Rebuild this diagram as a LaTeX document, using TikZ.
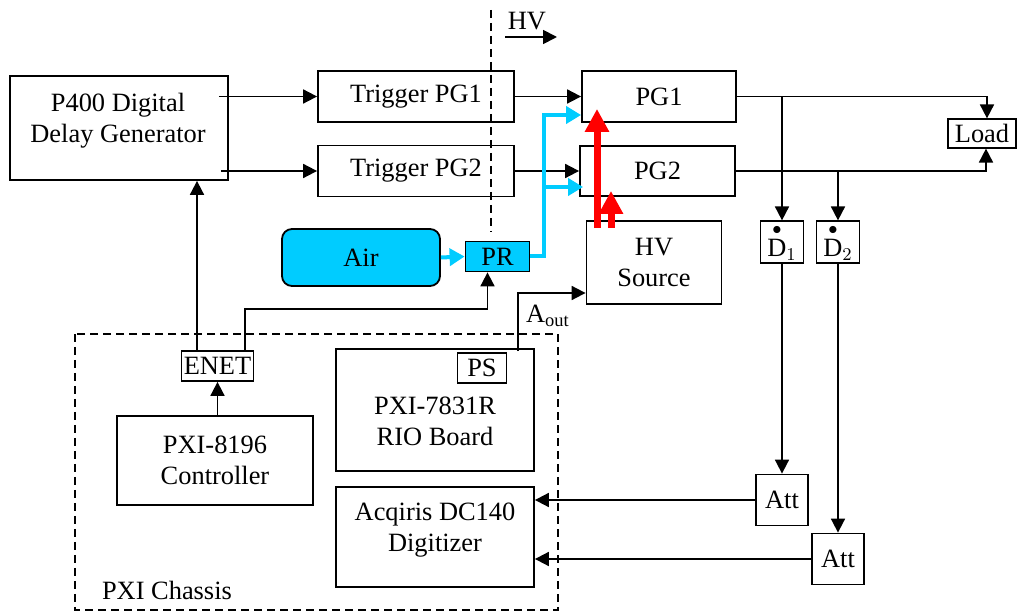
\documentclass[tikz,border=0pt]{standalone}
\usepackage{amsmath}
\usepackage{fontspec}
\setmainfont{Liberation Serif}
\usetikzlibrary{arrows.meta,calc}
\definecolor{airblue}{RGB}{0,204,255}
\definecolor{hvred}{RGB}{255,0,0}
\tikzset{
  box/.style={draw, line width=0.9pt, inner sep=0pt, align=center},
  arr/.style={line width=0.9pt, -{Triangle[length=7pt,width=7pt]}},
  cyanarr/.style={airblue, line width=2pt, -{Triangle[length=7.5pt,width=8.5pt]}},
  redarr/.style={hvred, line width=3.5pt, -{Triangle[length=11.5pt,width=11.5pt]}},
  border/.style={line width=0.8pt, dash pattern=on 4pt off 2.5pt},
}

\begin{document}
\begin{tikzpicture}[x=0.5pt, y=-0.5pt, font=\fontsize{13.2}{15.5}\selectfont]
    \useasboundingbox (0,0) rectangle (1019,614);

    % Timing
    \node[box, minimum width=109pt, minimum height=52pt] (P400) at (119,128) {};
    \node[align=center] (P400text) at (118,121) {P400 Digital\\Delay Generator};
    \node[box, minimum width=98pt, minimum height=25.5pt] (TPG1) at (416,96.5) {Trigger PG1};
    \node[box, minimum width=98pt, minimum height=25.5pt] (TPG2) at (416,171) {Trigger PG2};

    % Pulse generators
    \node[box, minimum width=77pt, minimum height=25.5pt] (PG1) at (659,96.5) {PG1};
    \node[box, minimum width=77.5pt, minimum height=25pt] (PG2) at (657.5,171) {PG2};
    \node[box, minimum width=67.5pt, minimum height=41.5pt] (HV) at (654,262.5) {HV\\Source};
    \node[box, fill=airblue, rounded corners=5pt, minimum width=79pt, minimum height=28.5pt] (Air) at (361,257.5) {Air};
    \node[box, fill=airblue, minimum width=32pt, minimum height=15pt] (PR) at (497.5,256.5) {PR};

    % Load and probes
    \node[box, line width=0.6pt, minimum width=34pt, minimum height=14.5pt] (Load) at (982,133.5) {Load};
    \node[box, line width=0.6pt, minimum width=21.5pt, minimum height=21pt] (D1) at (782,242) {${\overset{\bullet}{\mathrm{D}}}_1$};
    \node[box, line width=0.6pt, minimum width=21.5pt, minimum height=21pt] (D2) at (838,242) {${\overset{\bullet}{\mathrm{D}}}_2$};
    \node[box, minimum width=26pt, minimum height=25.5pt] (Att1) at (782,500) {Att};
    \node[box, minimum width=26pt, minimum height=25.5pt] (Att2) at (838,559) {Att};

    % PXI chassis
    \draw[border] (75,334) rectangle (558,610);
    \node[anchor=west] (chassis) at (95,590) {PXI Chassis};
    \node[box, minimum width=36pt, minimum height=15pt] (ENET) at (217.5,366) {ENET};
    \node[box, minimum width=99pt, minimum height=61pt] (RIO) at (435,410) {};
    \node[align=center] (RIOtext) at (435,421) {PXI-7831R\\RIO Board};
    \node[box, line width=0.6pt, minimum width=24.5pt, minimum height=15pt] (PS) at (482,368) {PS};
    \node[box, minimum width=98pt, minimum height=44.5pt] (CTRL) at (215,460.5) {PXI-8196\\Controller};
    \node[box, minimum width=99pt, minimum height=50pt] (DIG) at (435,537) {};
    \node[align=center] (DIGtext) at (435,530) {Acqiris DC140\\Digitizer};

    % HV border
    \draw[border] (491,10) -- (491,232);
    \node (hvlabel) at (527,21) {HV};
    \coordinate (hvfrom) at (505,37);
    \coordinate (hvto) at (557,37);
    \draw[arr] (hvfrom) -- (hvto);

    % Trigger lines
    \draw[arr] ($(P400.east |- TPG1.west)+(-10,0)$) -- (TPG1.west);
    \draw[arr] ($(P400.east |- TPG2.west)+(-8,0)$) -- (TPG2.west);
    \draw[arr] (TPG1.east) -- (PG1.west);
    \draw[arr] (TPG2.east) -- (PG2.west);
    \draw[arr] ($(ENET.north)+(-20.5,0)$) -- ($(P400.south)+(78,0)$);
    \draw[arr] ($(ENET.north)+(27.5,0)$) |- ($(PR.south)+(-10,37)$) -- ($(PR.south)+(-10,0)$);
    \draw[arr] (ENET.south |- CTRL.north) -- (ENET.south);

    % Air
    \draw[cyanarr] (Air.east) -- (PR.west);
    \draw[cyanarr] (PR.east) -| ($(PG1.west)+(-37,18.5)$) -- ($(PG1.west)+(0,18.5)$);
    \draw[cyanarr] ($(PG2.west)+(-35,16)$) -- ($(PG2.west)+(4,16)$);

    % HV
    \draw[redarr] ($(HV.north)+(-57,8)$) -- ($(PG1.south)+(-62,-14)$);
    \draw[redarr] ($(HV.north)+(-43,8)$) -- ($(PG2.south)+(-46.5,-6)$);
    \draw[arr] ($(RIO.north)+(83,3)$) |- ($(HV.west)+(0,30.5)$);
    \node (Aout) at (548,316) {A\textsubscript{out}};

    % Outputs
    \draw[arr] (PG1.east) -| ($(Load.north)+(5,0)$);
    \draw[arr] (PG1.east -| D1.north) -- (D1.north);
    \draw[arr] (PG2.east) -| ($(Load.south)+(4,0)$);
    \draw[arr] (PG2.east -| D2.north) -- (D2.north);
    \draw[arr] (D1.south) -- (Att1.north);
    \draw[arr] (D2.south) -- (Att2.north);
    \draw[arr] (Att1.west) -- (Att1.west -| DIG.east);
    \draw[arr] (Att2.west) -- (Att2.west -| DIG.east);
\end{tikzpicture}
\end{document}
